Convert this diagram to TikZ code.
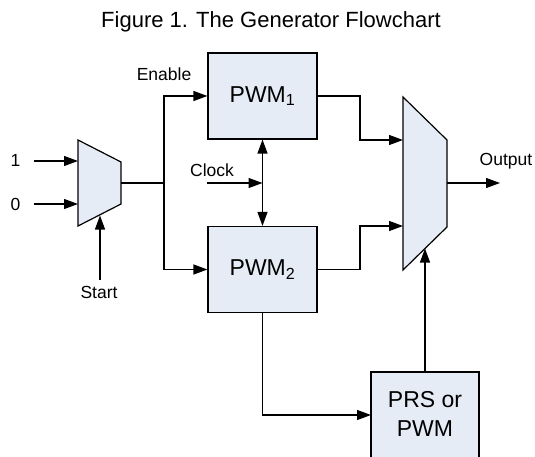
\documentclass[tikz,border=0pt]{standalone}
\usepackage{fontspec}
\setmainfont{Liberation Sans}
\usetikzlibrary{arrows.meta}
\definecolor{blockfill}{RGB}{230,236,246}
\tikzset{
  wire/.style={line width=1.2pt},
  tipshape/.style={},
  sig/.style={wire,-{Triangle[length=14pt,width=10pt]}},
  dsig/.style={wire,{Triangle[length=14pt,width=10pt]}-{Triangle[length=14pt,width=10pt]}},
  block/.style={draw,line width=1.2pt,fill=blockfill,inner sep=0pt,
    minimum width=109pt,minimum height=86pt,font=\fontsize{23}{27}\selectfont},
  muxshape/.style={draw,line width=1.2pt,fill=blockfill},
  lbl/.style={inner sep=0pt,anchor=base,font=\fontsize{17.5}{20}\selectfont},
  biglbl/.style={inner sep=0pt,anchor=base,font=\fontsize{23}{27}\selectfont},
  titlelbl/.style={inner sep=0pt,anchor=base,font=\fontsize{22}{26}\selectfont},
}
\begin{document}
\begin{tikzpicture}[x=1pt,y=-1pt]
\useasboundingbox (0,0) rectangle (535,457);

% title
\node[titlelbl] (title) at (271,28) {Figure 1. The Generator Flowchart};

% input multiplexer
\draw[muxshape] (78,140) -- (121,162) -- (121,204) -- (78,226) -- cycle;
\coordinate (muxA-in1) at (78,161);
\coordinate (muxA-in0) at (78,204);
\coordinate (muxA-out) at (121,183);
\coordinate (muxA-sel) at (100,215.5);

% output multiplexer
\draw[muxshape] (403,97) -- (447,140) -- (447,227) -- (403,270) -- cycle;
\coordinate (muxB-in1) at (403,140);
\coordinate (muxB-in2) at (403,226);
\coordinate (muxB-out) at (447,183);
\coordinate (muxB-sel) at (425,248.5);

% blocks
\node[block] (pwm1) at (262.5,96) {PWM\textsubscript{1}};
\node[block] (pwm2) at (262.5,269.5) {PWM\textsubscript{2}};
\node[block,minimum width=108pt,minimum height=92pt] (prs) at (425,418) {};
\node[biglbl] (prsA) at (425,407) {PRS or};
\node[biglbl] (prsB) at (425,436) {PWM};

% labels
\node[lbl] (one) at (15.5,167) {1};
\node[lbl] (zero) at (15.5,210) {0};
\node[lbl] (start) at (99,298) {Start};
\node[lbl] (enable) at (164,81) {Enable};
\node[lbl] (clock) at (212,177) {Clock};
\node[lbl] (output) at (506,166) {Output};

% helper points
\coordinate (src1) at (34,161);
\coordinate (src0) at (34,204);
\coordinate (srcStart) at (100,280);
\coordinate (split) at (164,183);
\coordinate (clk-in) at (207,183);
\coordinate (busB) at (360,183);
\coordinate (out-end) at (500,183);
\coordinate (prs-in) at (371,415);

% connectors
\draw[sig] (src1) -- (muxA-in1);
\draw[sig] (src0) -- (muxA-in0);
\draw[sig] (srcStart) -- (muxA-sel);
\draw[wire] (muxA-out) -- (split);
\draw[sig] (split) |- (pwm1.west);
\draw[sig] (split) |- (pwm2.west);
\draw[sig] (clk-in) -- (clk-in -| pwm1.south);
\draw[dsig] (pwm1.south) -- (pwm2.north);
\draw[sig] (pwm1.east) -| (muxB-in1 -| busB) -- (muxB-in1);
\draw[sig] (pwm2.east) -| (muxB-in2 -| busB) -- (muxB-in2);
\draw[sig] (muxB-out) -- (out-end);
\draw[sig] (prs.north) -- (muxB-sel);
\draw[sig] (pwm2.south) |- (prs-in);
\end{tikzpicture}
\end{document}
